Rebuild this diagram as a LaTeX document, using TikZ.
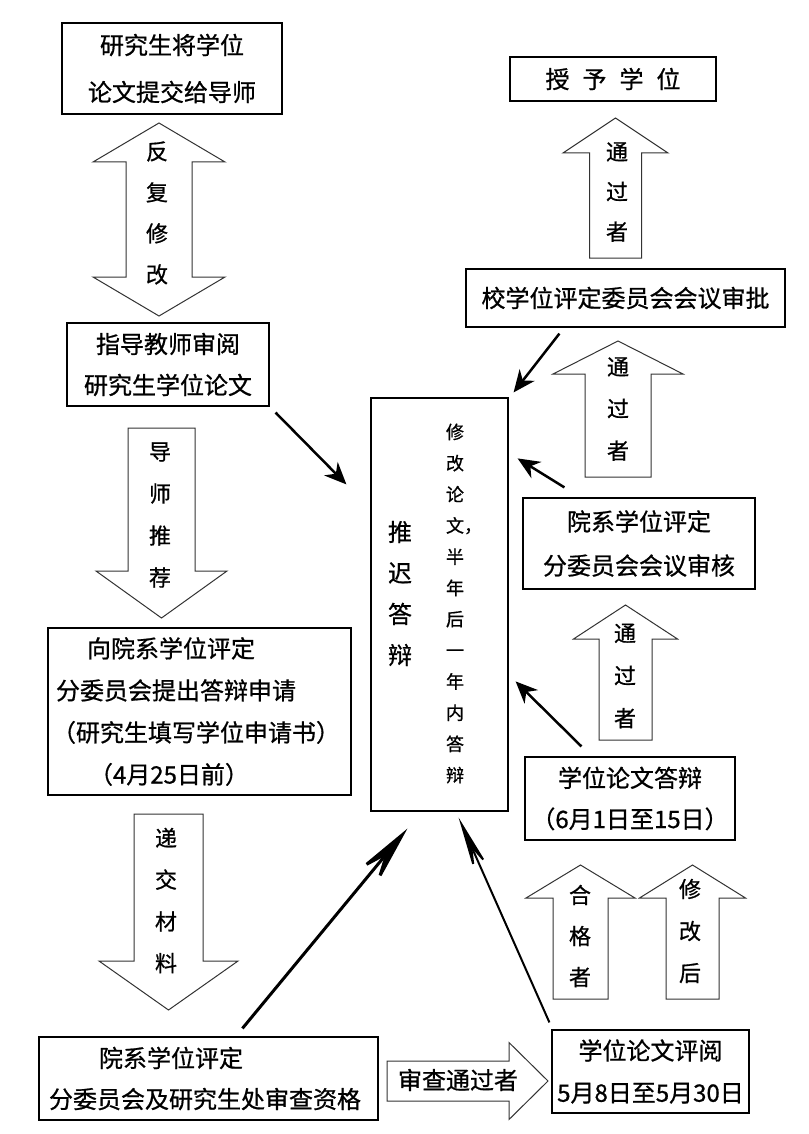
\documentclass[tikz,border=0pt]{standalone}
\usepackage{fontspec}
\newfontfamily\cjk[FakeBold=0.8]{Noto Sans CJK SC}
\usetikzlibrary{arrows.meta}

% hollow block arrow, vertical: x, tip, head base, tail, half shaft, half head
\newcommand{\vblock}[6]{%
  \draw[blk] (#1,#2) -- (#1+#6,#3) -- (#1+#5,#3) -- (#1+#5,#4)
    -- (#1-#5,#4) -- (#1-#5,#3) -- (#1-#6,#3) -- cycle;}
% hollow block arrow, two heads: x, tip1, base1, base2, tip2, half shaft, half head
\newcommand{\dblock}[7]{%
  \draw[blk] (#1,#2) -- (#1+#7,#3) -- (#1+#6,#3) -- (#1+#6,#4) -- (#1+#7,#4)
    -- (#1,#5) -- (#1-#7,#4) -- (#1-#6,#4) -- (#1-#6,#3) -- (#1-#7,#3) -- cycle;}
% hollow block arrow, horizontal: y, tip, head base, tail, half shaft, half head
\newcommand{\hblock}[6]{%
  \draw[blk] (#2,#1) -- (#3,#1-#6) -- (#3,#1-#5) -- (#4,#1-#5)
    -- (#4,#1+#5) -- (#3,#1+#5) -- (#3,#1+#6) -- cycle;}

\begin{document}
\begin{tikzpicture}[x=1pt,y=-1pt,
  box/.style={draw,line width=1.2pt,inner sep=0pt,align=center,
              font=\cjk\fontsize{24pt}{41pt}\selectfont},
  blk/.style={draw=black!80,line width=1pt,fill=white},
  lbl/.style={inner sep=0pt,align=center,font=\cjk\fontsize{22pt}{41pt}\selectfont},
  ar/.style={-{Stealth[length=22pt,width=19pt,inset=7pt]},line width=2.5pt},
  bigar/.style={-{Stealth[length=68pt,width=26pt,inset=32pt]},line width=3pt},
  thinar/.style={-{Stealth[length=60pt,width=16pt,inset=26pt]},line width=2pt}]
  \useasboundingbox[fill=white] (0,0) rectangle (808,1134);

  % boxes
  \node[box,minimum width=220pt,minimum height=91pt,font=\cjk\fontsize{24pt}{47pt}\selectfont]
    (sub) at (172,68.5) {研究生将学位\\论文提交给导师};
  \node[box,minimum width=202pt,minimum height=83pt] (rev) at (168,364.5)
    {指导教师审阅\\研究生学位论文};
  \node[box,minimum width=303pt,minimum height=167pt,text width=295pt,inner xsep=4pt,
        align=left,font=\cjk\fontsize{24pt}{42pt}\selectfont] (apply) at (199.5,711.5)
    {\hspace*{35pt}向院系学位评定\\\hspace*{4pt}分委员会提出答辩申请\\（研究生填写学位申请书）\\\hspace*{37pt}（4月25日前）};
  \node[box,minimum width=137pt,minimum height=413pt] (tui) at (439.5,604.5) {};
  \node[inner sep=0pt,align=center,font=\cjk\fontsize{24pt}{41pt}\selectfont]
    (tuiL) at (400,593.5) {推\\迟\\答\\辩};
  \node[inner sep=0pt,align=center,font=\cjk\fontsize{18pt}{31.2pt}\selectfont]
    (tuiR) at (455,603.5) {修\\改\\论\\文\rlap{，}\\半\\年\\后\\一\\年\\内\\答\\辩};
  \node[box,minimum width=206pt,minimum height=44pt] (shou) at (613,79)
    {授\hspace{13pt}予\hspace{13pt}学\hspace{13pt}位};
  \node[box,minimum width=319pt,minimum height=58pt] (xiao) at (625.5,298)
    {校学位评定委员会会议审批};
  \node[box,minimum width=232pt,minimum height=91pt,font=\cjk\fontsize{24pt}{44pt}\selectfont]
    (yuan) at (639,543.5) {院系学位评定\\分委员会会议审核};
  \node[box,minimum width=210pt,minimum height=83pt] (dabian) at (630,798.5)
    {学位论文答辩\\（6月1日至15日）};
  \node[box,minimum width=339pt,minimum height=83pt,text width=331pt,inner xsep=4pt,
        align=left] (shencha) at (208.5,1078.5)
    {\hspace*{56pt}院系学位评定\\\hspace*{6pt}分委员会及研究生处审查资格};
  \node[box,minimum width=197pt,minimum height=83pt,font=\cjk\fontsize{24pt}{42pt}\selectfont]
    (pingyue) at (650.5,1071.5) {学位论文评阅\\5月8日至5月30日};

  % block arrows
  \dblock{159}{123}{162}{277}{316}{33}{66}
  \node[lbl] (fanfu) at (157,213) {反\\复\\修\\改};
  \vblock{161.5}{618}{571}{428}{33.5}{65.5}
  \node[lbl,font=\cjk\fontsize{22pt}{42pt}\selectfont] (tuijian) at (160,515) {导\\师\\推\\荐};
  \vblock{168.5}{1010}{961}{814}{34.5}{69.5}
  \node[lbl,font=\cjk\fontsize{22pt}{41.7pt}\selectfont] (dijiao) at (166,900.5) {递\\交\\材\\料};
  \vblock{615.5}{118}{153}{258}{26}{52.5}
  \node[lbl,font=\cjk\fontsize{22pt}{40pt}\selectfont] (tgA) at (617,192) {通\\过\\者};
  \vblock{618}{341}{374}{477}{33}{65}
  \node[lbl,font=\cjk\fontsize{22pt}{42pt}\selectfont] (tgB) at (618,409) {通\\过\\者};
  \vblock{625.5}{605}{639}{740}{26.5}{52}
  \node[lbl,font=\cjk\fontsize{22pt}{42.5pt}\selectfont] (tgC) at (625,676) {通\\过\\者};
  \vblock{580.5}{865}{898}{999}{27.5}{54.5}
  \node[lbl] (hege) at (580,936) {合\\格\\者};
  \vblock{692.5}{865}{898}{999}{26.5}{53}
  \node[lbl,font=\cjk\fontsize{22pt}{42pt}\selectfont] (xiugai) at (690,931) {修\\改\\后};
  \hblock{1081}{548}{509}{387}{20}{38.5}
  \node[lbl,font=\cjk\fontsize{24pt}{41pt}\selectfont] (shtg) at (458,1080) {审查通过者};

  % arrows into the postponed box
  \draw[ar] ([shift={(6,6)}]rev.south east) -- ([shift={(-24,87)}]tui.north west);
  \draw[ar] ([shift={(94,6)}]xiao.south west) -- ([shift={(5,-5)}]tui.north east);
  \draw[ar] ([shift={(42,-10)}]yuan.north west) -- ([shift={(9,61)}]tui.north east);
  \draw[ar] ([shift={(57,-10)}]dabian.north west) -- ([shift={(7,284)}]tui.north east);
  \draw[bigar] ([shift={(204,-8)}]shencha.north west) -- ([shift={(37,17)}]tui.south west);
  \draw[thinar] ([shift={(-2,-7)}]pingyue.north west) -- ([shift={(-50,6)}]tui.south east);
\end{tikzpicture}
\end{document}
